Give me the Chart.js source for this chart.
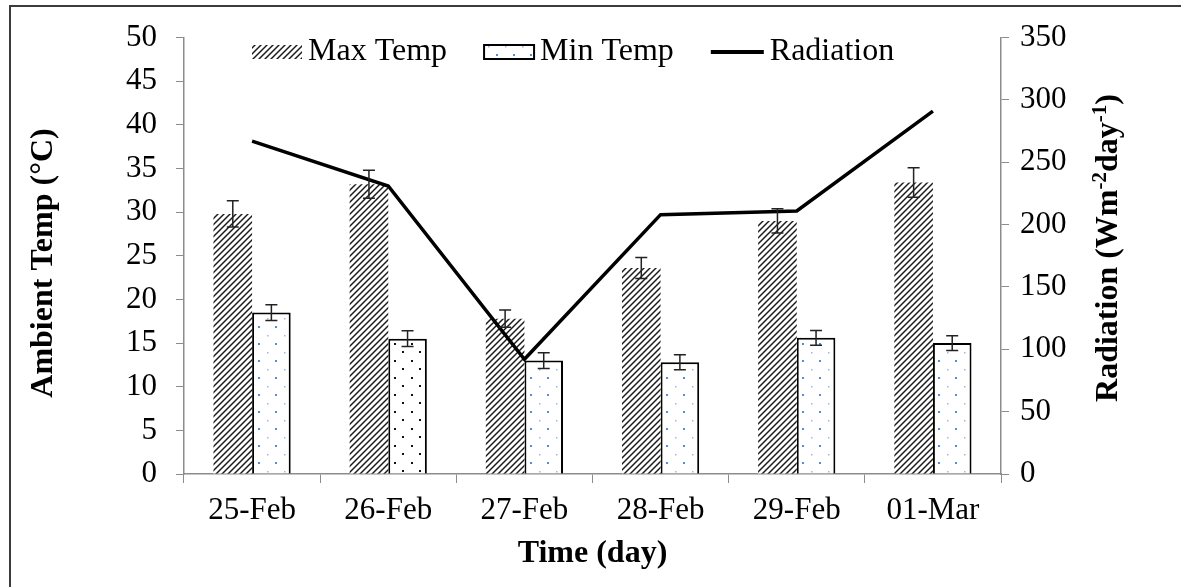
<!DOCTYPE html>
<html lang="en">
<head>
<meta charset="UTF-8">
<title>Ambient temperature and radiation</title>
<script src="https://cdn.jsdelivr.net/npm/chart.js"></script>
<style>
    body { margin: 0; background: #fff; }
    .wrap { position: relative; width: 1181px; height: 587px; }
    .frame {
        position: absolute; left: 9px; top: 5px; right: -10px; bottom: -10px;
        border-left: 2px solid #3c3c3c; border-top: 2px solid #3c3c3c;
        pointer-events: none;
    }
</style>
</head>
<body>
<div class="wrap">
    <canvas id="chart" width="1181" height="587"></canvas>
    <div class="frame"></div>
</div>
<script>
    // data
    const days = ['25-Feb', '26-Feb', '27-Feb', '28-Feb', '29-Feb', '01-Mar'];
    const maxTemp = [29.8, 33.2, 17.8, 23.6, 29.0, 33.4];
    const maxErr = [1.5, 1.6, 1.0, 1.2, 1.4, 1.7];
    const minTemp = [18.5, 15.5, 13.0, 12.8, 15.6, 15.0];
    const minErr = [0.9, 0.9, 0.9, 0.85, 0.85, 0.85];
    const radiation = [267, 231, 92, 208, 211, 291];
    const tempTicks = [0, 50, 5];
    const radTicks = [0, 350, 50];

    const serif = "'Liberation Serif', 'Times New Roman', serif";
    const axisGrey = '#8c8c8c';

    const canvas = document.getElementById('chart');
    const mainCtx = canvas.getContext('2d');

    // fill patterns
    function hatchPattern() {
        const c = document.createElement('canvas');
        c.width = 6; c.height = 6;
        const g = c.getContext('2d');
        g.fillStyle = '#fff';
        g.fillRect(0, 0, 6, 6);
        g.strokeStyle = '#1a1a1a';
        g.lineWidth = 1.45;
        g.beginPath();
        g.moveTo(-1, 7); g.lineTo(7, -1);
        g.moveTo(-1, 1); g.lineTo(1, -1);
        g.moveTo(5, 7); g.lineTo(7, 5);
        g.stroke();
        return mainCtx.createPattern(c, 'repeat');
    }

    function dotPattern(color, small) {
        const c = document.createElement('canvas');
        c.width = 17; c.height = 17;
        const g = c.getContext('2d');
        g.fillStyle = '#fff';
        g.fillRect(0, 0, 17, 17);
        g.fillStyle = color;
        if (small) {
            g.fillRect(3, 3, 2, 2);
            g.globalAlpha = 0.6;
            g.fillRect(12, 12, 1.5, 1.5);
        } else {
            g.fillRect(3, 3, 2, 2);
            g.fillRect(11, 11, 2, 2);
        }
        return mainCtx.createPattern(c, 'repeat');
    }

    const hatch = hatchPattern();
    const blueDots = dotPattern('#4a8fe0', true);
    const blackDots = dotPattern('#111', false);
    const minFills = [blueDots, blackDots, blueDots, blueDots, blueDots, blueDots];

    // error bars on top of the bars
    const errorBars = {
        id: 'errorBars',
        afterDatasetsDraw(chart) {
            const ctx = chart.ctx;
            const y = chart.scales.y;
            [[0, maxErr], [1, minErr]].forEach(([i, errs]) => {
                const meta = chart.getDatasetMeta(i);
                meta.data.forEach((bar, j) => {
                    const v = chart.data.datasets[i].data[j];
                    const top = y.getPixelForValue(v + errs[j]);
                    const bot = y.getPixelForValue(v - errs[j]);
                    ctx.save();
                    ctx.strokeStyle = '#222';
                    ctx.lineWidth = 1.5;
                    ctx.beginPath();
                    ctx.moveTo(bar.x, top); ctx.lineTo(bar.x, bot);
                    ctx.moveTo(bar.x - 6, top); ctx.lineTo(bar.x + 6, top);
                    ctx.moveTo(bar.x - 6, bot); ctx.lineTo(bar.x + 6, bot);
                    ctx.stroke();
                    ctx.restore();
                });
            });
        }
    };

    // legend sits inside the plot, like the original
    const insideLegend = {
        id: 'insideLegend',
        afterDraw(chart) {
            const ctx = chart.ctx;
            ctx.save();
            ctx.font = '32px ' + serif;
            ctx.textBaseline = 'middle';
            let x = 252;
            const y = 52;
            chart.data.datasets.forEach(ds => {
                if (ds.type === 'line') {
                    ctx.strokeStyle = ds.borderColor;
                    ctx.lineWidth = 4;
                    ctx.beginPath();
                    ctx.moveTo(x, y); ctx.lineTo(x + 53, y);
                    ctx.stroke();
                    x += 53;
                } else {
                    const bg = Array.isArray(ds.backgroundColor) ? ds.backgroundColor[0] : ds.backgroundColor;
                    ctx.fillStyle = bg;
                    ctx.fillRect(x, y - 7, 50, 14);
                    if (ds.borderWidth) {
                        ctx.strokeStyle = ds.borderColor;
                        ctx.lineWidth = 2;
                        ctx.strokeRect(x, y - 7, 50, 14);
                    }
                    x += 50;
                }
                x += 6;
                ctx.fillStyle = '#000';
                ctx.fillText(ds.label, x, y);
                x += ctx.measureText(ds.label).width + 37;
            });
            ctx.restore();
        }
    };

    // rotated axis titles, both reading bottom-to-top; right one has superscripts
    function drawVertical(ctx, parts, cx, cy) {
        const big = 'bold 32px ' + serif;
        const small = 'bold 21px ' + serif;
        ctx.save();
        let total = 0;
        parts.forEach(([t, sup]) => {
            ctx.font = sup ? small : big;
            total += ctx.measureText(t).width;
        });
        ctx.translate(cx, cy);
        ctx.rotate(-Math.PI / 2);
        ctx.textBaseline = 'alphabetic';
        ctx.fillStyle = '#000';
        let x = -total / 2;
        parts.forEach(([t, sup]) => {
            ctx.font = sup ? small : big;
            ctx.fillText(t, x, sup ? 0 : 11);
            x += ctx.measureText(t).width;
        });
        ctx.restore();
    }

    const axisTitles = {
        id: 'axisTitles',
        afterDraw(chart) {
            drawVertical(chart.ctx, [['Ambient Temp (°C)', false]], 41, 263);
            drawVertical(chart.ctx, [
                ['Radiation (Wm', false], ['-2', true], ['day', false], ['-1', true], [')', false]
            ], 1106, 248);
        }
    };

    Chart.defaults.font.family = serif;
    Chart.defaults.font.size = 31;
    Chart.defaults.color = '#000';

    new Chart(canvas, {
        type: 'bar',
        data: {
            labels: days,
            datasets: [
                {
                    label: 'Max Temp',
                    data: maxTemp,
                    backgroundColor: hatch,
                    borderWidth: 0,
                    yAxisID: 'y',
                    order: 1,
                    barPercentage: 1,
                    categoryPercentage: 0.567
                },
                {
                    label: 'Min Temp',
                    data: minTemp,
                    backgroundColor: minFills,
                    borderColor: '#000',
                    borderWidth: 2,
                    yAxisID: 'y',
                    order: 1,
                    barPercentage: 1,
                    categoryPercentage: 0.567
                },
                {
                    type: 'line',
                    label: 'Radiation',
                    data: radiation,
                    borderColor: '#000',
                    borderWidth: 3.5,
                    pointRadius: 0,
                    tension: 0,
                    fill: false,
                    yAxisID: 'y1',
                    order: 0
                }
            ]
        },
        options: {
            responsive: false,
            animation: false,
            layout: { padding: { top: 31, left: 0, right: 0, bottom: 0 } },
            plugins: {
                legend: { display: false },
                tooltip: { enabled: false }
            },
            scales: {
                x: {
                    offset: true,
                    grid: { drawOnChartArea: false, tickLength: 9, color: axisGrey, offset: true },
                    border: { color: axisGrey, width: 1.5 },
                    ticks: { padding: 9, maxRotation: 0 },
                    title: { display: true, text: 'Time (day)', font: { weight: 'bold', size: 32 }, padding: { top: 14, bottom: 14 } },
                    afterFit: s => { s.height = 113; }
                },
                y: {
                    position: 'left',
                    min: tempTicks[0], max: tempTicks[1],
                    ticks: { stepSize: tempTicks[2], padding: 19 },
                    grid: { drawOnChartArea: false, tickLength: 8, color: axisGrey },
                    border: { color: axisGrey, width: 1.5 },
                    afterFit: s => { s.width = 184; }
                },
                y1: {
                    position: 'right',
                    min: radTicks[0], max: radTicks[1],
                    ticks: { stepSize: radTicks[2], padding: 11 },
                    grid: { drawOnChartArea: false, tickLength: 8, color: axisGrey },
                    border: { color: axisGrey, width: 1.5 },
                    afterFit: s => { s.width = 180; }
                }
            }
        },
        plugins: [errorBars, insideLegend, axisTitles]
    });
</script>
</body>
</html>
